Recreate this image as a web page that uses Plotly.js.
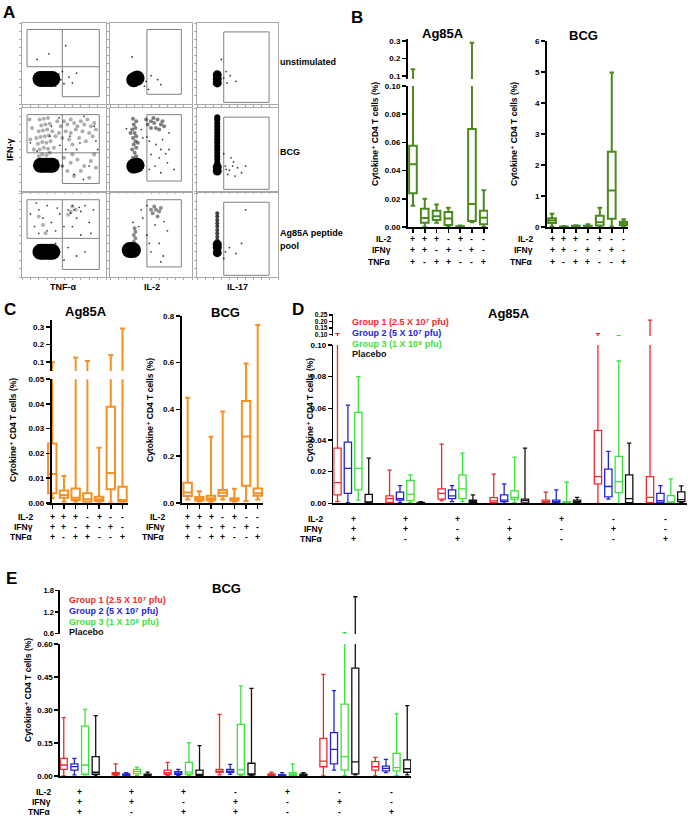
<!DOCTYPE html>
<html><head><meta charset="utf-8">
<script src="https://cdn.plot.ly/plotly-3.0.1.min.js"></script>
<style>html,body{margin:0;padding:0;background:#fff}#chart{width:688px;height:820px}</style>
</head><body><div id="chart"></div>
<script>
const W = 688, H = 820;
const FONT = 'Liberation Sans, Arial, DejaVu Sans, sans-serif';

// ---------- shared category data ----------
const combos = ['IL-2+ IFNγ+ TNFα+','IL-2+ IFNγ+ TNFα-','IL-2+ IFNγ- TNFα+','IL-2- IFNγ+ TNFα+','IL-2+ IFNγ- TNFα-','IL-2- IFNγ+ TNFα-','IL-2- IFNγ- TNFα+'];
const rowLabels = ['IL-2', 'IFNγ', 'TNFα'];
const il2Signs = ['+','+','+','-','+','-','-'];
const ifnSigns = ['+','+','-','+','-','+','-'];
const tnfSigns = ['+','-','+','+','-','-','+'];
const groupNames = ['Group 1 (2.5 X 10⁷ pfu)','Group 2 (5 X 10⁷ pfu)','Group 3 (1 X 10⁸ pfu)','Placebo'];

// ---------- Panel B (green) ----------
const bAgLow  = [0.015, 0, 0.003, 0, 0, 0.0033, 0];
const bAgQ1   = [0.024, 0.003, 0.005, 0.0014, 0, 0.0043, 0.002];
const bAgMed  = [0.0445, 0.0064, 0.0076, 0.006, 0.0003, 0.0163, 0.0066];
const bAgQ3   = [0.0577, 0.013, 0.0116, 0.0106, 0.0006, 0.0695, 0.0116];
const bAgHigh = [0.138, 0.020, 0.016, 0.0137, 0.001, 0.29, 0.026];

const bBcgLow  = [0.02, 0, 0, 0, 0, 0.02, 0.02];
const bBcgQ1   = [0.13, 0.005, 0.01, 0.005, 0.05, 0.27, 0.06];
const bBcgMed  = [0.21, 0.01, 0.02, 0.02, 0.15, 1.18, 0.12];
const bBcgQ3   = [0.28, 0.02, 0.04, 0.04, 0.36, 2.43, 0.17];
const bBcgHigh = [0.43, 0.03, 0.06, 0.09, 0.62, 4.98, 0.25];

// ---------- Panel C (orange) ----------
const cAgLow  = [0.0018, 0.0004, 0.0004, 0, 0, 0, 0];
const cAgQ1   = [0.0038, 0.002, 0.0011, 0.0004, 0.0007, 0.0055, 0.0004];
const cAgMed  = [0.0116, 0.0031, 0.002, 0.0014, 0.0014, 0.012, 0.0011];
const cAgQ3   = [0.024, 0.0049, 0.0058, 0.0038, 0.0024, 0.0389, 0.0065];
const cAgHigh = [0.098, 0.0108, 0.126, 0.106, 0.0223, 0.14, 0.29];

const cBcgLow  = [0.014, 0.004, 0.003, 0.014, 0.004, 0.007, 0.014];
const cBcgQ1   = [0.029, 0.009, 0.01, 0.029, 0.009, 0.073, 0.03];
const cBcgMed  = [0.044, 0.017, 0.019, 0.043, 0.014, 0.284, 0.04];
const cBcgQ3   = [0.086, 0.024, 0.03, 0.054, 0.019, 0.436, 0.061];
const cBcgHigh = [0.45, 0.049, 0.283, 0.391, 0.06, 0.597, 0.761];

// ---------- Panel D (Ag85A by group) ----------
const dG1Low  = [0.001, 0, 0.0017, 0, 0, 0, 0];
const dG1Q1   = [0.0053, 0.0006, 0.0027, 0.0004, 0.0002, 0.0123, 0.0004];
const dG1Med  = [0.0131, 0.003, 0.0063, 0.0015, 0.001, 0.0169, 0.0038];
const dG1Q3   = [0.0349, 0.0047, 0.0091, 0.0036, 0.002, 0.0461, 0.0169];
const dG1High = [0.105, 0.021, 0.0374, 0.0184, 0.007, 0.106, 0.21];

const dG2Low  = [0.0004, 0.0004, 0.001, 0, 0, 0.0027, 0.0004];
const dG2Q1   = [0.0063, 0.002, 0.003, 0.001, 0.0002, 0.004, 0.0006];
const dG2Med  = [0.022, 0.003, 0.0047, 0.002, 0.001, 0.0106, 0.0017];
const dG2Q3   = [0.0387, 0.007, 0.0085, 0.0053, 0.002, 0.0216, 0.0063];
const dG2High = [0.062, 0.0112, 0.0112, 0.0123, 0.0085, 0.0328, 0.0112];

const dG3Low  = [0.002, 0.0004, 0.001, 0.0004, 0, 0, 0];
const dG3Q1   = [0.0085, 0.0017, 0.003, 0.0027, 0.0002, 0.0068, 0.0002];
const dG3Med  = [0.022, 0.0057, 0.0091, 0.0038, 0.0005, 0.0137, 0.0004];
const dG3Q3   = [0.0575, 0.0144, 0.018, 0.0078, 0.001, 0.0296, 0.0049];
const dG3High = [0.080, 0.018, 0.0317, 0.0292, 0.0133, 0.0899, 0.0154];

const dPlLow  = [0, 0, 0, 0, 0, 0, 0.0004];
const dPlQ1   = [0.0002, 0.0001, 0.0006, 0.0002, 0.0004, 0.0004, 0.001];
const dPlMed  = [0.0005, 0.0003, 0.0015, 0.0017, 0.001, 0.003, 0.0023];
const dPlQ3   = [0.0057, 0.0006, 0.002, 0.0027, 0.002, 0.018, 0.0072];
const dPlHigh = [0.0285, 0.001, 0.0053, 0.0349, 0.0038, 0.038, 0.011];

// ---------- Panel E (BCG by group) ----------
const eG1Low  = [0, 0, 0.002, 0.005, 0, 0, 0];
const eG1Q1   = [0.03, 0.005, 0.008, 0.017, 0.002, 0.042, 0.027];
const eG1Med  = [0.05, 0.012, 0.015, 0.022, 0.005, 0.068, 0.042];
const eG1Q3   = [0.08, 0.015, 0.027, 0.03, 0.01, 0.171, 0.065];
const eG1High = [0.265, 0.055, 0.062, 0.28, 0.018, 0.462, 0.085];

const eG2Low  = [0.005, 0, 0.002, 0.008, 0, 0.027, 0.015];
const eG2Q1   = [0.027, 0.003, 0.007, 0.017, 0.001, 0.055, 0.023];
const eG2Med  = [0.043, 0.006, 0.013, 0.022, 0.003, 0.121, 0.035];
const eG2Q3   = [0.055, 0.01, 0.02, 0.03, 0.006, 0.197, 0.045];
const eG2High = [0.08, 0.015, 0.03, 0.053, 0.015, 0.388, 0.076];

const eG3Low  = [0.005, 0.002, 0.002, 0.003, 0, 0.003, 0.003];
const eG3Q1   = [0.008, 0.01, 0.008, 0.008, 0.003, 0.027, 0.023];
const eG3Med  = [0.05, 0.02, 0.018, 0.028, 0.008, 0.088, 0.038];
const eG3Q3   = [0.227, 0.03, 0.062, 0.235, 0.015, 0.327, 0.103];
const eG3High = [0.303, 0.04, 0.152, 0.41, 0.055, 0.62, 0.282];

const ePlLow  = [0, 0, 0, 0, 0, 0.005, 0.005];
const ePlQ1   = [0.008, 0.002, 0.003, 0.005, 0.002, 0.01, 0.017];
const ePlMed  = [0.017, 0.005, 0.005, 0.01, 0.005, 0.064, 0.033];
const ePlQ3   = [0.088, 0.008, 0.027, 0.058, 0.008, 0.49, 0.073];
const ePlHigh = [0.274, 0.018, 0.138, 0.398, 0.015, 1.63, 0.32];

// ---------- Panel A (flow cytometry, hand-read event clouds, 0-100 scale) ----------
const unstimTnfBlob = [[22,31],[25,31],[29,31],[33,31],[36,31]];
const unstimTnfHaze = [[40,30],[18,30]];
const unstimTnfDots = [[46,30],[50,25],[44,37],[56,33],[48,40],[60,26],[18,55],[32,62],[52,72],[40,22],[65,38]];
const unstimIl2Blob = [[29,30],[33,32]];
const unstimIl2Haze = [];
const unstimIl2Dots = [[44,28],[50,35],[42,22],[58,30],[47,18],[27,58],[62,24]];
const unstimIl17Blob = [[25,26],[25,31],[25,36]];
const unstimIl17Haze = [];
const unstimIl17Dots = [[33,32],[37,26],[41,35],[48,28],[30,55],[36,40]];

const bcgTnfBlob = [[22,31],[25,31],[29,31],[33,31],[36,31]];
const bcgTnfHaze = [[20,42],[24,44],[29,43],[33,46],[21,50],[26,52],[31,51],[19,57],[24,59],[29,58],[34,60],[22,65],[27,66],[32,67],[20,72],[25,73],[30,74],[23,79],[28,80],[33,81],[21,86],[26,87],[31,88],[17,64],[36,72],
  [46,78],[50,84],[54,80],[58,86],[62,82],[66,78],[70,84],[74,80],[78,86],[82,78],[86,82],[52,72],[58,70],[64,74],[72,72],[80,70],[48,64],[56,62],[68,64],[76,60],[84,66],[60,56],[88,74],[44,70],
  [10,62],[12,76],[9,86],[14,50],[38,52],[40,66],[42,84],
  [50,40],[58,34],[66,38],[74,30],[82,36],[54,24],[62,18],[70,24],[80,16],[88,28],[48,30],[86,44],[60,44],[42,36]];
const bcgTnfDots = [[18,48],[33,66],[44,88],[57,66],[69,58],[74,90],[86,78],[62,20],[73,14],[52,50],[48,30],[35,78],[10,58],[88,60],[80,30],[45,55],[65,50],[90,50]];
const bcgIl2Blob = [[29,30],[33,31]];
const bcgIl2Haze = [[28,40],[32,42],[30,46],[27,50],[32,52],[29,56],[31,60],[28,64],[32,66],[30,70],[27,74],[31,76],[29,80],[32,84],[28,87],[34,58],[25,70],
  [46,80],[50,84],[54,82],[58,86],[62,80],[56,76],[50,76],[64,84],[60,74],[44,86],[66,78],[53,88]];
const bcgIl2Dots = [[48,60],[56,56],[64,62],[72,50],[50,44],[60,40],[70,34],[78,26],[48,26],[62,22],[40,64],[38,74],[72,70],[55,30],[68,45],[20,75],[45,65],[62,50]];
const bcgIl17Blob = [[25,24],[25,29]];
const bcgIl17Haze = [[25,34],[25,38],[25,42],[25,46],[25,50],[25,54],[25,58],[25,62],[25,66],[25,70],[25,74],[25,78],[25,82],[25,86],[25,89]];
const bcgIl17Dots = [[35,30],[40,25],[45,35],[38,20],[50,28],[42,40],[55,22],[33,45],[47,18],[60,30],[36,26],[44,30]];

const agTnfBlob = [[22,30],[25,30],[29,30],[33,30],[36,30]];
const agTnfHaze = [[58,78],[64,80],[60,84],[55,74],[25,62],[20,72],[28,52]];
const agTnfDots = [[15,60],[25,70],[35,65],[20,80],[30,85],[45,75],[55,80],[60,85],[70,78],[65,70],[75,85],[50,60],[40,55],[80,65],[55,35],[65,25],[75,30],[50,20],[10,75],[20,52],[60,60],[85,80],[70,50],[30,55],[58,76],[62,80],[68,83],[42,82],[17,88],[82,52],[40,40],[45,30]];
const agIl2Blob = [[24,32],[28,32]];
const agIl2Haze = [[29,42],[31,46],[29,50],[31,54],[30,58],[52,76],[56,80],[60,78],[54,84],[58,72],[62,82],[50,80]];
const agIl2Dots = [[35,60],[40,70],[45,50],[50,30],[60,40],[65,25],[70,55],[45,85],[38,80],[55,62],[28,65],[62,18],[48,40],[66,66]];
const agIl17Blob = [[25,29],[25,35],[25,39]];
const agIl17Haze = [[25,44],[25,48],[25,52],[25,56],[25,60],[25,64],[25,68],[25,72],[25,76]];
const agIl17Dots = [[35,30],[40,35],[48,28],[55,40],[60,80],[33,22]];

const quadGateX = [6,6,92,92,48,48,null,6,92];
const quadGateY = [46,92,92,9,9,92,null,46,46];
const il2GateX = [45,45,87,87,45];
const il2GateY = [12,92,92,12,12];
const il17GateX = [33,33,89,89,33];
const il17GateY = [2,89,89,2,2];

// ---------- helpers ----------
const xd = (a, b) => [a / W, b / W];
const yd = (top, bottom) => [1 - bottom / H, 1 - top / H];
const traces = [];
const annotations = [];
const layout = {
  width: W, height: H, margin: {l: 0, r: 0, t: 0, b: 0},
  paper_bgcolor: '#fff', plot_bgcolor: 'rgba(0,0,0,0)',
  showlegend: false, boxmode: 'overlay',
  font: {family: FONT, color: '#000'},
  annotations: annotations
};

function flowPanel(k, xpx, ypx, blob, blobSize, haze, hazeSize, hazeOp, dots, gx, gy) {
  const xa = 'x' + k, ya = 'y' + k;
  layout['xaxis' + k] = {domain: xd(xpx[0], xpx[1]), range: [0, 100], anchor: ya, showline: true, mirror: true,
    linecolor: '#a8a8a8', linewidth: 1, ticks: 'outside', ticklen: 2, tickcolor: '#aaa', dtick: 10,
    showticklabels: false, showgrid: false, zeroline: false, fixedrange: true};
  layout['yaxis' + k] = {domain: yd(ypx[0], ypx[1]), range: [0, 100], anchor: xa, showline: true, mirror: true,
    linecolor: '#a8a8a8', linewidth: 1, ticks: 'outside', ticklen: 2, tickcolor: '#aaa', dtick: 10,
    showticklabels: false, showgrid: false, zeroline: false, fixedrange: true};
  traces.push({type: 'scatter', mode: 'lines', xaxis: xa, yaxis: ya, x: gx, y: gy,
    line: {color: '#808080', width: 1}, hoverinfo: 'skip'});
  if (haze.length) traces.push({type: 'scatter', mode: 'markers', xaxis: xa, yaxis: ya,
    x: haze.map(p => p[0]), y: haze.map(p => p[1]),
    marker: {size: hazeSize, color: 'rgba(0,0,0,' + hazeOp + ')', line: {width: 0}}, hoverinfo: 'skip'});
  traces.push({type: 'scatter', mode: 'markers', xaxis: xa, yaxis: ya,
    x: dots.map(p => p[0]), y: dots.map(p => p[1]),
    marker: {size: 1.8, color: 'rgba(0,0,0,0.75)', line: {width: 0}}, hoverinfo: 'skip'});
  traces.push({type: 'scatter', mode: 'markers', xaxis: xa, yaxis: ya,
    x: blob.map(p => p[0]), y: blob.map(p => p[1]),
    marker: {size: blobSize, color: '#000', line: {width: 0}}, hoverinfo: 'skip'});
}

const colX = [[22, 106], [110, 192], [197, 278]];
const rowY = [[23, 104], [108, 191], [193, 277]];
flowPanel(1, colX[0], rowY[0], unstimTnfBlob, 16, unstimTnfHaze, 6, 0.25, unstimTnfDots, quadGateX, quadGateY);
flowPanel(2, colX[1], rowY[0], unstimIl2Blob, 15, unstimIl2Haze, 4, 0.3, unstimIl2Dots, il2GateX, il2GateY);
flowPanel(3, colX[2], rowY[0], unstimIl17Blob, 9, unstimIl17Haze, 4, 0.3, unstimIl17Dots, il17GateX, il17GateY);
flowPanel(4, colX[0], rowY[1], bcgTnfBlob, 15, bcgTnfHaze, 4, 0.32, bcgTnfDots, quadGateX, quadGateY);
flowPanel(5, colX[1], rowY[1], bcgIl2Blob, 15, bcgIl2Haze, 4, 0.5, bcgIl2Dots, il2GateX, il2GateY);
flowPanel(6, colX[2], rowY[1], bcgIl17Blob, 9, bcgIl17Haze, 6, 1, bcgIl17Dots, il17GateX, il17GateY);
flowPanel(7, colX[0], rowY[2], agTnfBlob, 16, agTnfHaze, 4, 0.3, agTnfDots, quadGateX, quadGateY);
flowPanel(8, colX[1], rowY[2], agIl2Blob, 16, agIl2Haze, 4, 0.45, agIl2Dots, il2GateX, il2GateY);
flowPanel(9, colX[2], rowY[2], agIl17Blob, 9, agIl17Haze, 4, 0.75, agIl17Dots, il17GateX, il17GateY);

function boxTrace(xa, ya, pos, low, q1, med, q3, high, color, width, lw) {
  return {type: 'box', xaxis: xa, yaxis: ya, x: pos, q1: q1, median: med, q3: q3,
    lowerfence: low, upperfence: high, width: width, whiskerwidth: 0.6,
    line: {color: color, width: lw}, fillcolor: 'rgba(0,0,0,0)', boxpoints: false,
    hoverinfo: 'skip', showlegend: false};
}
function yAxis(dom, range, tickvals, fmt, anchor, lw, fs, extra) {
  return Object.assign({domain: dom, range: range, anchor: anchor, showline: true, linecolor: '#000', linewidth: lw,
    ticks: 'outside', ticklen: 4, tickwidth: lw * 0.8, tickcolor: '#000', tickvals: tickvals, tickformat: fmt,
    tickfont: {family: FONT, size: fs, weight: 'bold', color: '#000'}, showgrid: false, zeroline: false, fixedrange: true}, extra || {});
}
function xAxis(dom, range, anchor, lw, withTicks) {
  return {domain: dom, range: range, anchor: anchor, showline: true, linecolor: '#000', linewidth: lw,
    ticks: withTicks ? 'outside' : '', ticklen: 4, tickwidth: lw * 0.75, tickcolor: '#000',
    tickvals: combos.map((c, i) => i), showticklabels: false, showgrid: false, zeroline: false, fixedrange: true};
}
const catPos = combos.map((c, i) => i);

// ---------- Panel B ----------
const GREEN = '#4b8b1d';
layout.xaxis10 = xAxis(xd(408, 488), [-0.42, 6.36], 'y10', 2, true);
layout.yaxis10 = yAxis(yd(86, 227), [0, 0.1], [0, 0.02, 0.04, 0.06, 0.08, 0.1], '.2f', 'x10', 2, 8);
layout.yaxis11 = yAxis(yd(39, 79), [0.083, 0.311], [0.1, 0.2, 0.3], '.1f', 'x10', 2, 8);
['y10', 'y11'].forEach(ya => traces.push(boxTrace('x10', ya, catPos, bAgLow, bAgQ1, bAgMed, bAgQ3, bAgHigh, GREEN, 0.65, 2)));
layout.xaxis11 = xAxis(xd(547, 628), [-0.42, 6.36], 'y12', 2, true);
layout.yaxis12 = yAxis(yd(41, 227), [0, 6], [0, 1, 2, 3, 4, 5, 6], 'd', 'x11', 2, 8);
traces.push(boxTrace('x11', 'y12', catPos, bBcgLow, bBcgQ1, bBcgMed, bBcgQ3, bBcgHigh, GREEN, 0.65, 2));

// ---------- Panel C ----------
const ORANGE = '#f39126';
layout.xaxis12 = xAxis(xd(47, 128), [-0.45, 6.47], 'y13', 2, true);
layout.yaxis13 = yAxis(yd(379.3, 502.7), [0, 0.05], [0, 0.01, 0.02, 0.03, 0.04, 0.05], '.2f', 'free', 2, 8, {position: 50.7 / W});
layout.yaxis14 = yAxis(yd(320, 371), [0.049, 0.338], [0.1, 0.2, 0.3], '.1f', 'free', 2, 8, {position: 50.7 / W});
['y13', 'y14'].forEach(ya => traces.push(boxTrace('x12', ya, catPos, cAgLow, cAgQ1, cAgMed, cAgQ3, cAgHigh, ORANGE, 0.72, 2)));
layout.xaxis13 = xAxis(xd(181.7, 263), [-0.51, 6.45], 'y15', 2, true);
layout.yaxis15 = yAxis(yd(316, 502.7), [0, 0.8], [0, 0.2, 0.4, 0.6, 0.8], '.1f', 'x13', 2, 8);
traces.push(boxTrace('x13', 'y15', catPos, cBcgLow, cBcgQ1, cBcgMed, cBcgQ3, cBcgHigh, ORANGE, 0.72, 2));

// ---------- Panel D & E ----------
const GCOL = ['#ee2b2b', '#2424d6', '#3ee03e', '#111111'];
const offsets = [-1.5, -0.5, 0.5, 1.5];
const dSeries = [
  [dG1Low, dG1Q1, dG1Med, dG1Q3, dG1High], [dG2Low, dG2Q1, dG2Med, dG2Q3, dG2High],
  [dG3Low, dG3Q1, dG3Med, dG3Q3, dG3High], [dPlLow, dPlQ1, dPlMed, dPlQ3, dPlHigh]];
const eSeries = [
  [eG1Low, eG1Q1, eG1Med, eG1Q3, eG1High], [eG2Low, eG2Q1, eG2Med, eG2Q3, eG2High],
  [eG3Low, eG3Q1, eG3Med, eG3Q3, eG3High], [ePlLow, ePlQ1, ePlMed, ePlQ3, ePlHigh]];

layout.xaxis14 = xAxis(xd(333.3, 687), [-0.38, 6.41], 'y16', 1.6, false);
layout.yaxis16 = yAxis(yd(345, 503.3), [0, 0.1], [0, 0.02, 0.04, 0.06, 0.08, 0.1], '.2f', 'x14', 1.6, 8);
layout.yaxis17 = yAxis(yd(314, 336), [0.087, 0.258], [0.10, 0.15, 0.20, 0.25], '.2f', 'x14', 1.6, 6.5, {ticklen: 3});
dSeries.forEach((s, g) => {
  const pos = catPos.map(i => i + offsets[g] * 0.2);
  ['y16', 'y17'].forEach(ya => traces.push(boxTrace('x14', ya, pos, s[0], s[1], s[2], s[3], s[4], GCOL[g], 0.14, 1.3)));
});

layout.xaxis15 = xAxis(xd(60, 411), [-0.38, 6.38], 'y18', 1.6, false);
layout.yaxis18 = yAxis(yd(644, 776), [0, 0.6], [0, 0.15, 0.3, 0.45, 0.6], '.2f', 'x15', 1.6, 8);
layout.yaxis19 = yAxis(yd(590, 634), [0.58, 1.82], [0.6, 1.2, 1.8], '.1f', 'x15', 1.6, 7.5, {ticklen: 3});
eSeries.forEach((s, g) => {
  const pos = catPos.map(i => i + offsets[g] * 0.205);
  ['y18', 'y19'].forEach(ya => traces.push(boxTrace('x15', ya, pos, s[0], s[1], s[2], s[3], s[4], GCOL[g], 0.135, 1.3)));
});

// ---------- text ----------
function txt(x, y, text, size, opts) {
  annotations.push(Object.assign({xref: 'paper', yref: 'paper', x: x / W, y: 1 - y / H, text: text, showarrow: false,
    xanchor: 'center', yanchor: 'middle', font: {family: FONT, size: size, weight: 'bold', color: '#000'}}, opts || {}));
}
// panel letters
txt(9, 12, 'A', 17); txt(357, 17, 'B', 17); txt(10, 309, 'C', 17); txt(298, 309, 'D', 17); txt(11, 578, 'E', 17);
// flow labels
txt(278, 62, 'unstimulated', 9, {xanchor: 'left'});
txt(278, 152, 'BCG', 9, {xanchor: 'left'});
txt(278, 233, 'Ag85A peptide', 9, {xanchor: 'left'});
txt(278, 246, 'pool', 9, {xanchor: 'left'});
txt(10, 150, 'IFN-γ', 9, {textangle: -90});
txt(63, 287, 'TNF-α', 9); txt(152, 287, 'IL-2', 9); txt(237, 287, 'IL-17', 9);
// titles
txt(443, 33, 'Ag85A', 13); txt(583, 35, 'BCG', 13);
txt(86, 311, 'Ag85A', 13); txt(226, 312, 'BCG', 13);
txt(509, 313, 'Ag85A', 13); txt(227, 588, 'BCG', 13);
// y titles
const ytitle = 'Cytokine⁺ CD4 T cells (%)';
txt(375, 134, ytitle, 8.5, {textangle: -90});
txt(514, 134, ytitle, 8.5, {textangle: -90});
txt(13, 430, ytitle, 8.5, {textangle: -90});
txt(150, 410, ytitle, 8.5, {textangle: -90});
txt(310, 410, ytitle, 8.5, {textangle: -90});
txt(28, 690, ytitle, 8.5, {textangle: -90});
// legends
[[350, 322], [350, 333], [350, 343.5], [350, 354]].forEach((p, g) =>
  txt(p[0], p[1], groupNames[g], 9, {xanchor: 'left', font: {family: FONT, size: 9, weight: 'bold', color: GCOL[g]}}));
[[67, 600], [67, 611], [67, 621.5], [67, 632]].forEach((p, g) =>
  txt(p[0], p[1], groupNames[g], 9, {xanchor: 'left', font: {family: FONT, size: 9, weight: 'bold', color: GCOL[g]}}));

// sign tables
const signRows = [il2Signs, ifnSigns, tnfSigns];
function table(xref, labelRight, ys) {
  ys.forEach((y, r) => {
    txt(labelRight, y, rowLabels[r], 8.5, {xanchor: 'right'});
    signRows[r].forEach((s, i) => annotations.push({xref: xref, yref: 'paper', x: i, y: 1 - y / H, text: s, showarrow: false,
      xanchor: 'center', yanchor: 'middle', font: {family: FONT, size: 8.5, weight: 'bold', color: '#000'}}));
  });
}
table('x10', 393, [239, 250, 262]);
table('x11', 535, [239, 250, 262]);
table('x12', 35, [517, 527, 537]);
table('x13', 167, [517, 527, 537]);
table('x14', 325, [519, 529, 539]);
table('x15', 53, [792, 802, 812]);

Plotly.newPlot('chart', traces, layout, {staticPlot: true, displayModeBar: false});
</script>
</body></html>
